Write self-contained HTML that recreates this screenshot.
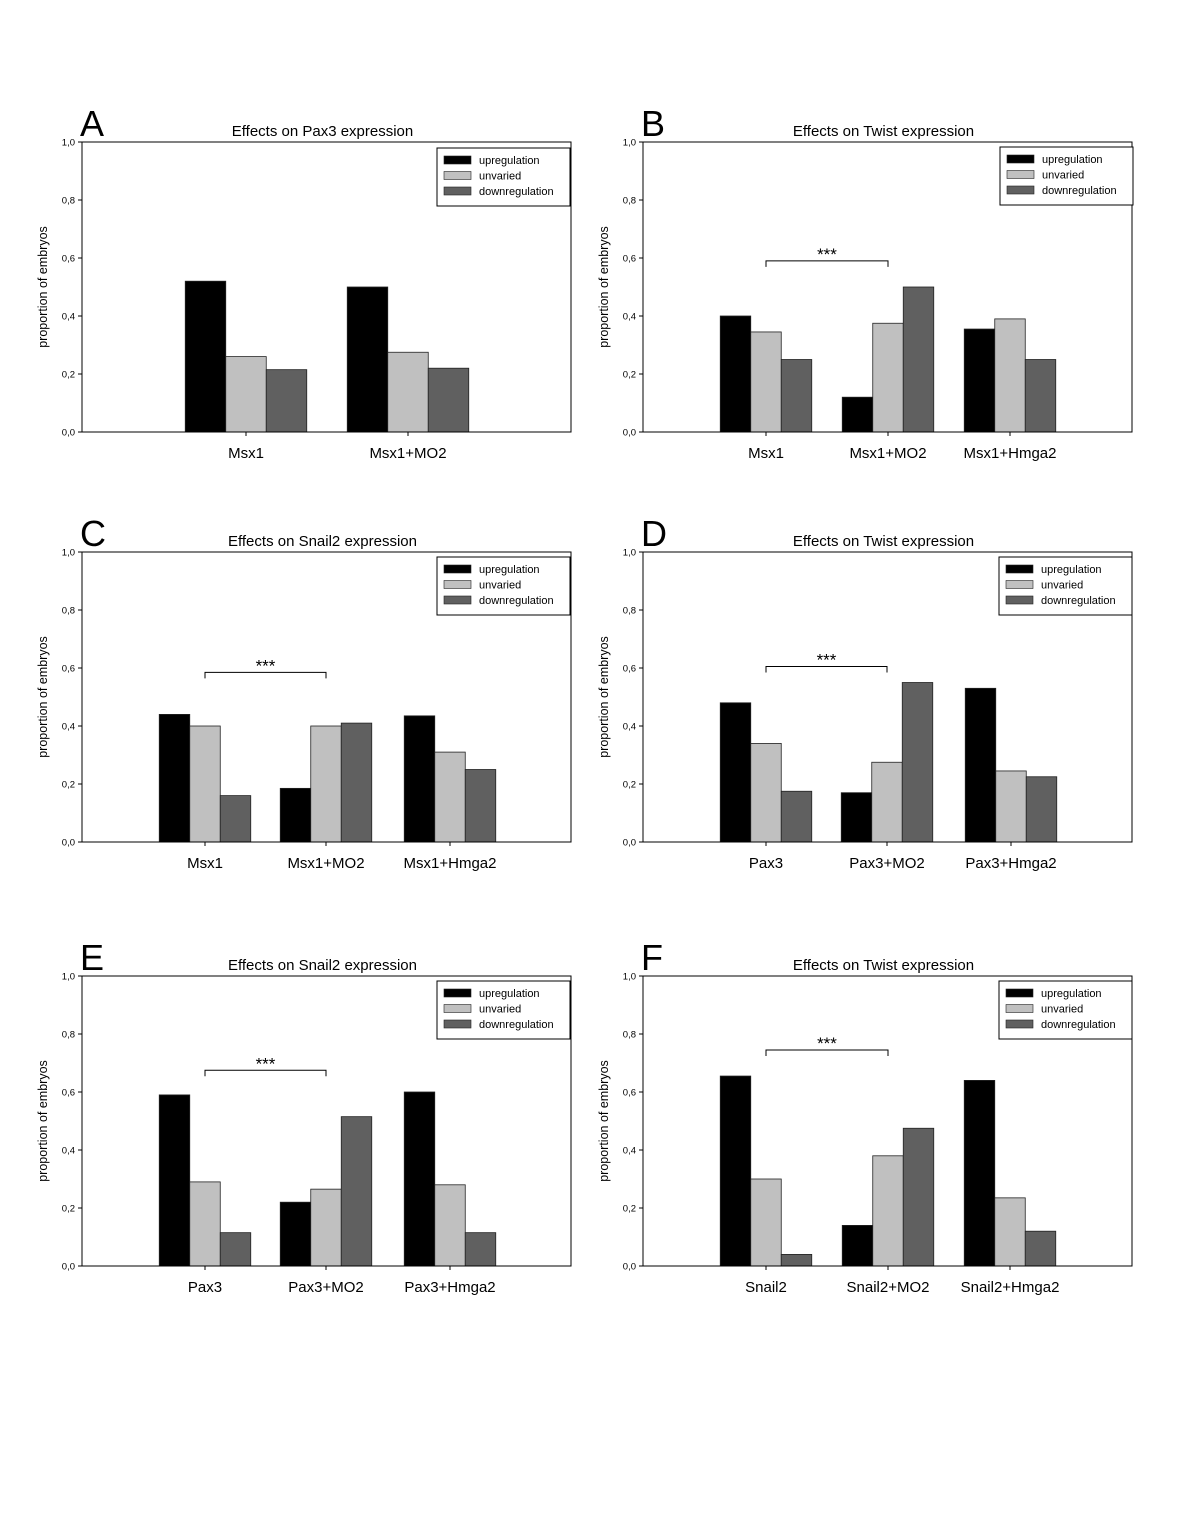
<!DOCTYPE html>
<html><head><meta charset="utf-8"><style>
body{margin:0;background:#fff;}
svg{display:block;font-family:"Liberation Sans",Arial,sans-serif;}
</style></head><body>
<svg id="fig" width="1181" height="1528" viewBox="0 0 1181 1528"></svg>
<script>
const seriesNames = ["upregulation","unvaried","downregulation"];
const colors = ["#000000","#c0c0c0","#606060"];
const yTicks = [0,0.2,0.4,0.6,0.8,1.0];
const yTickLabels = ["0,0","0,2","0,4","0,6","0,8","1,0"];
const catsA = ["Msx1","Msx1+MO2"];
const upA = [0.52,0.50]; const unA = [0.26,0.275]; const dnA = [0.215,0.22];
const catsB = ["Msx1","Msx1+MO2","Msx1+Hmga2"];
const upB = [0.40,0.12,0.355]; const unB = [0.345,0.375,0.39]; const dnB = [0.25,0.50,0.25];
const catsC = ["Msx1","Msx1+MO2","Msx1+Hmga2"];
const upC = [0.44,0.185,0.435]; const unC = [0.40,0.40,0.31]; const dnC = [0.16,0.41,0.25];
const catsD = ["Pax3","Pax3+MO2","Pax3+Hmga2"];
const upD = [0.48,0.17,0.53]; const unD = [0.34,0.275,0.245]; const dnD = [0.175,0.55,0.225];
const catsE = ["Pax3","Pax3+MO2","Pax3+Hmga2"];
const upE = [0.59,0.22,0.60]; const unE = [0.29,0.265,0.28]; const dnE = [0.115,0.515,0.115];
const catsF = ["Snail2","Snail2+MO2","Snail2+Hmga2"];
const upF = [0.655,0.14,0.64]; const unF = [0.30,0.38,0.235]; const dnF = [0.04,0.475,0.12];

const NS="http://www.w3.org/2000/svg";
const svg=document.getElementById('fig');
function mk(tag,attrs,parent,text){const e=document.createElementNS(NS,tag);for(const k in attrs)e.setAttribute(k,attrs[k]);if(text!==undefined)e.textContent=text;(parent||svg).appendChild(e);return e;}

const panels=[
 {id:"a",letter:"A",title:"Effects on Pax3 expression",x:82,y:142,cats:catsA,vals:[upA,unA,dnA],centers:[164,326],bw:40.5,legend:[437,148],sig:null},
 {id:"b",letter:"B",title:"Effects on Twist expression",x:643,y:142,cats:catsB,vals:[upB,unB,dnB],centers:[123,245,367],bw:30.5,legend:[1000,147],sig:[0,1,0.59]},
 {id:"c",letter:"C",title:"Effects on Snail2 expression",x:82,y:552,cats:catsC,vals:[upC,unC,dnC],centers:[123,244,368],bw:30.5,legend:[437,557],sig:[0,1,0.585]},
 {id:"d",letter:"D",title:"Effects on Twist expression",x:643,y:552,cats:catsD,vals:[upD,unD,dnD],centers:[123,244,368],bw:30.5,legend:[999,557],sig:[0,1,0.605]},
 {id:"e",letter:"E",title:"Effects on Snail2 expression",x:82,y:976,cats:catsE,vals:[upE,unE,dnE],centers:[123,244,368],bw:30.5,legend:[437,981],sig:[0,1,0.675]},
 {id:"f",letter:"F",title:"Effects on Twist expression",x:643,y:976,cats:catsF,vals:[upF,unF,dnF],centers:[123,245,367],bw:30.5,legend:[999,981],sig:[0,1,0.745]},
];
const W=489,H=290;
panels.forEach(p=>{
 const g=mk('g',{},svg);
 
 
 const yS=v=>p.y+H-v*H;
 const xS=i=>p.x+p.centers[i];
 const L=mk('text',{x:p.x-2,y:p.y-6,'font-size':36},g,p.letter);
 
 const T=mk('text',{x:p.x+W/2-4,y:p.y-6,'font-size':15,'text-anchor':'middle'},g,p.title);
 
 const yl=mk('text',{transform:`translate(${p.x-35},${p.y+H/2}) rotate(-90)`,'font-size':12.5,'text-anchor':'middle'},g,'proportion of embryos');
 
 yTicks.forEach((t,i)=>{
  mk('line',{x1:p.x-4,x2:p.x,y1:yS(t),y2:yS(t),stroke:'#000','stroke-width':1},g);
  const tl=mk('text',{x:p.x-7,y:yS(t)+3.5,'font-size':9.5,'text-anchor':'end'},g,yTickLabels[i]);
  
 });
 p.cats.forEach((c,i)=>{
  p.vals.forEach((s,k)=>{
   const x=xS(i)+(k-1.5)*p.bw;
   const r=mk('rect',{x:x,y:yS(s[i]),width:p.bw,height:H-(yS(s[i])-p.y),fill:colors[k],stroke:'#222','stroke-width':0.8},g);
   
   
  });
  mk('line',{x1:xS(i),x2:xS(i),y1:p.y+H,y2:p.y+H+4,stroke:'#000'},g);
  const cl=mk('text',{x:xS(i),y:p.y+H+26,'font-size':15,'text-anchor':'middle'},g,c);
  
 });
 const box=mk('rect',{x:p.x,y:p.y,width:W,height:H,fill:'none',stroke:'#000','stroke-width':1},g);
 
 if(p.sig){
  const x1=xS(p.sig[0]),x2=xS(p.sig[1]),yy=yS(p.sig[2]);
  const br=mk('path',{d:`M${x1},${yy+6}V${yy}H${x2}V${yy+6}`,fill:'none',stroke:'#000','stroke-width':1},g);
  
  const st=mk('text',{x:(x1+x2)/2,y:yy-1,'font-size':17,'text-anchor':'middle'},g,'***');
  
 }
 const [lx,ly]=p.legend;
 const lg=mk('g',{},g);
 
 mk('rect',{x:lx,y:ly,width:133,height:58,fill:'#fff',stroke:'#000','stroke-width':1},lg);
 seriesNames.forEach((n,k)=>{
  const e=mk('g',{},lg);
  
  mk('rect',{x:lx+7,y:ly+8+k*15.5,width:27,height:8,fill:colors[k],stroke:'#222','stroke-width':0.6},e);
  mk('text',{x:lx+42,y:ly+16+k*15.5,'font-size':11},e,n);
 });
});
</script>
</body></html>
